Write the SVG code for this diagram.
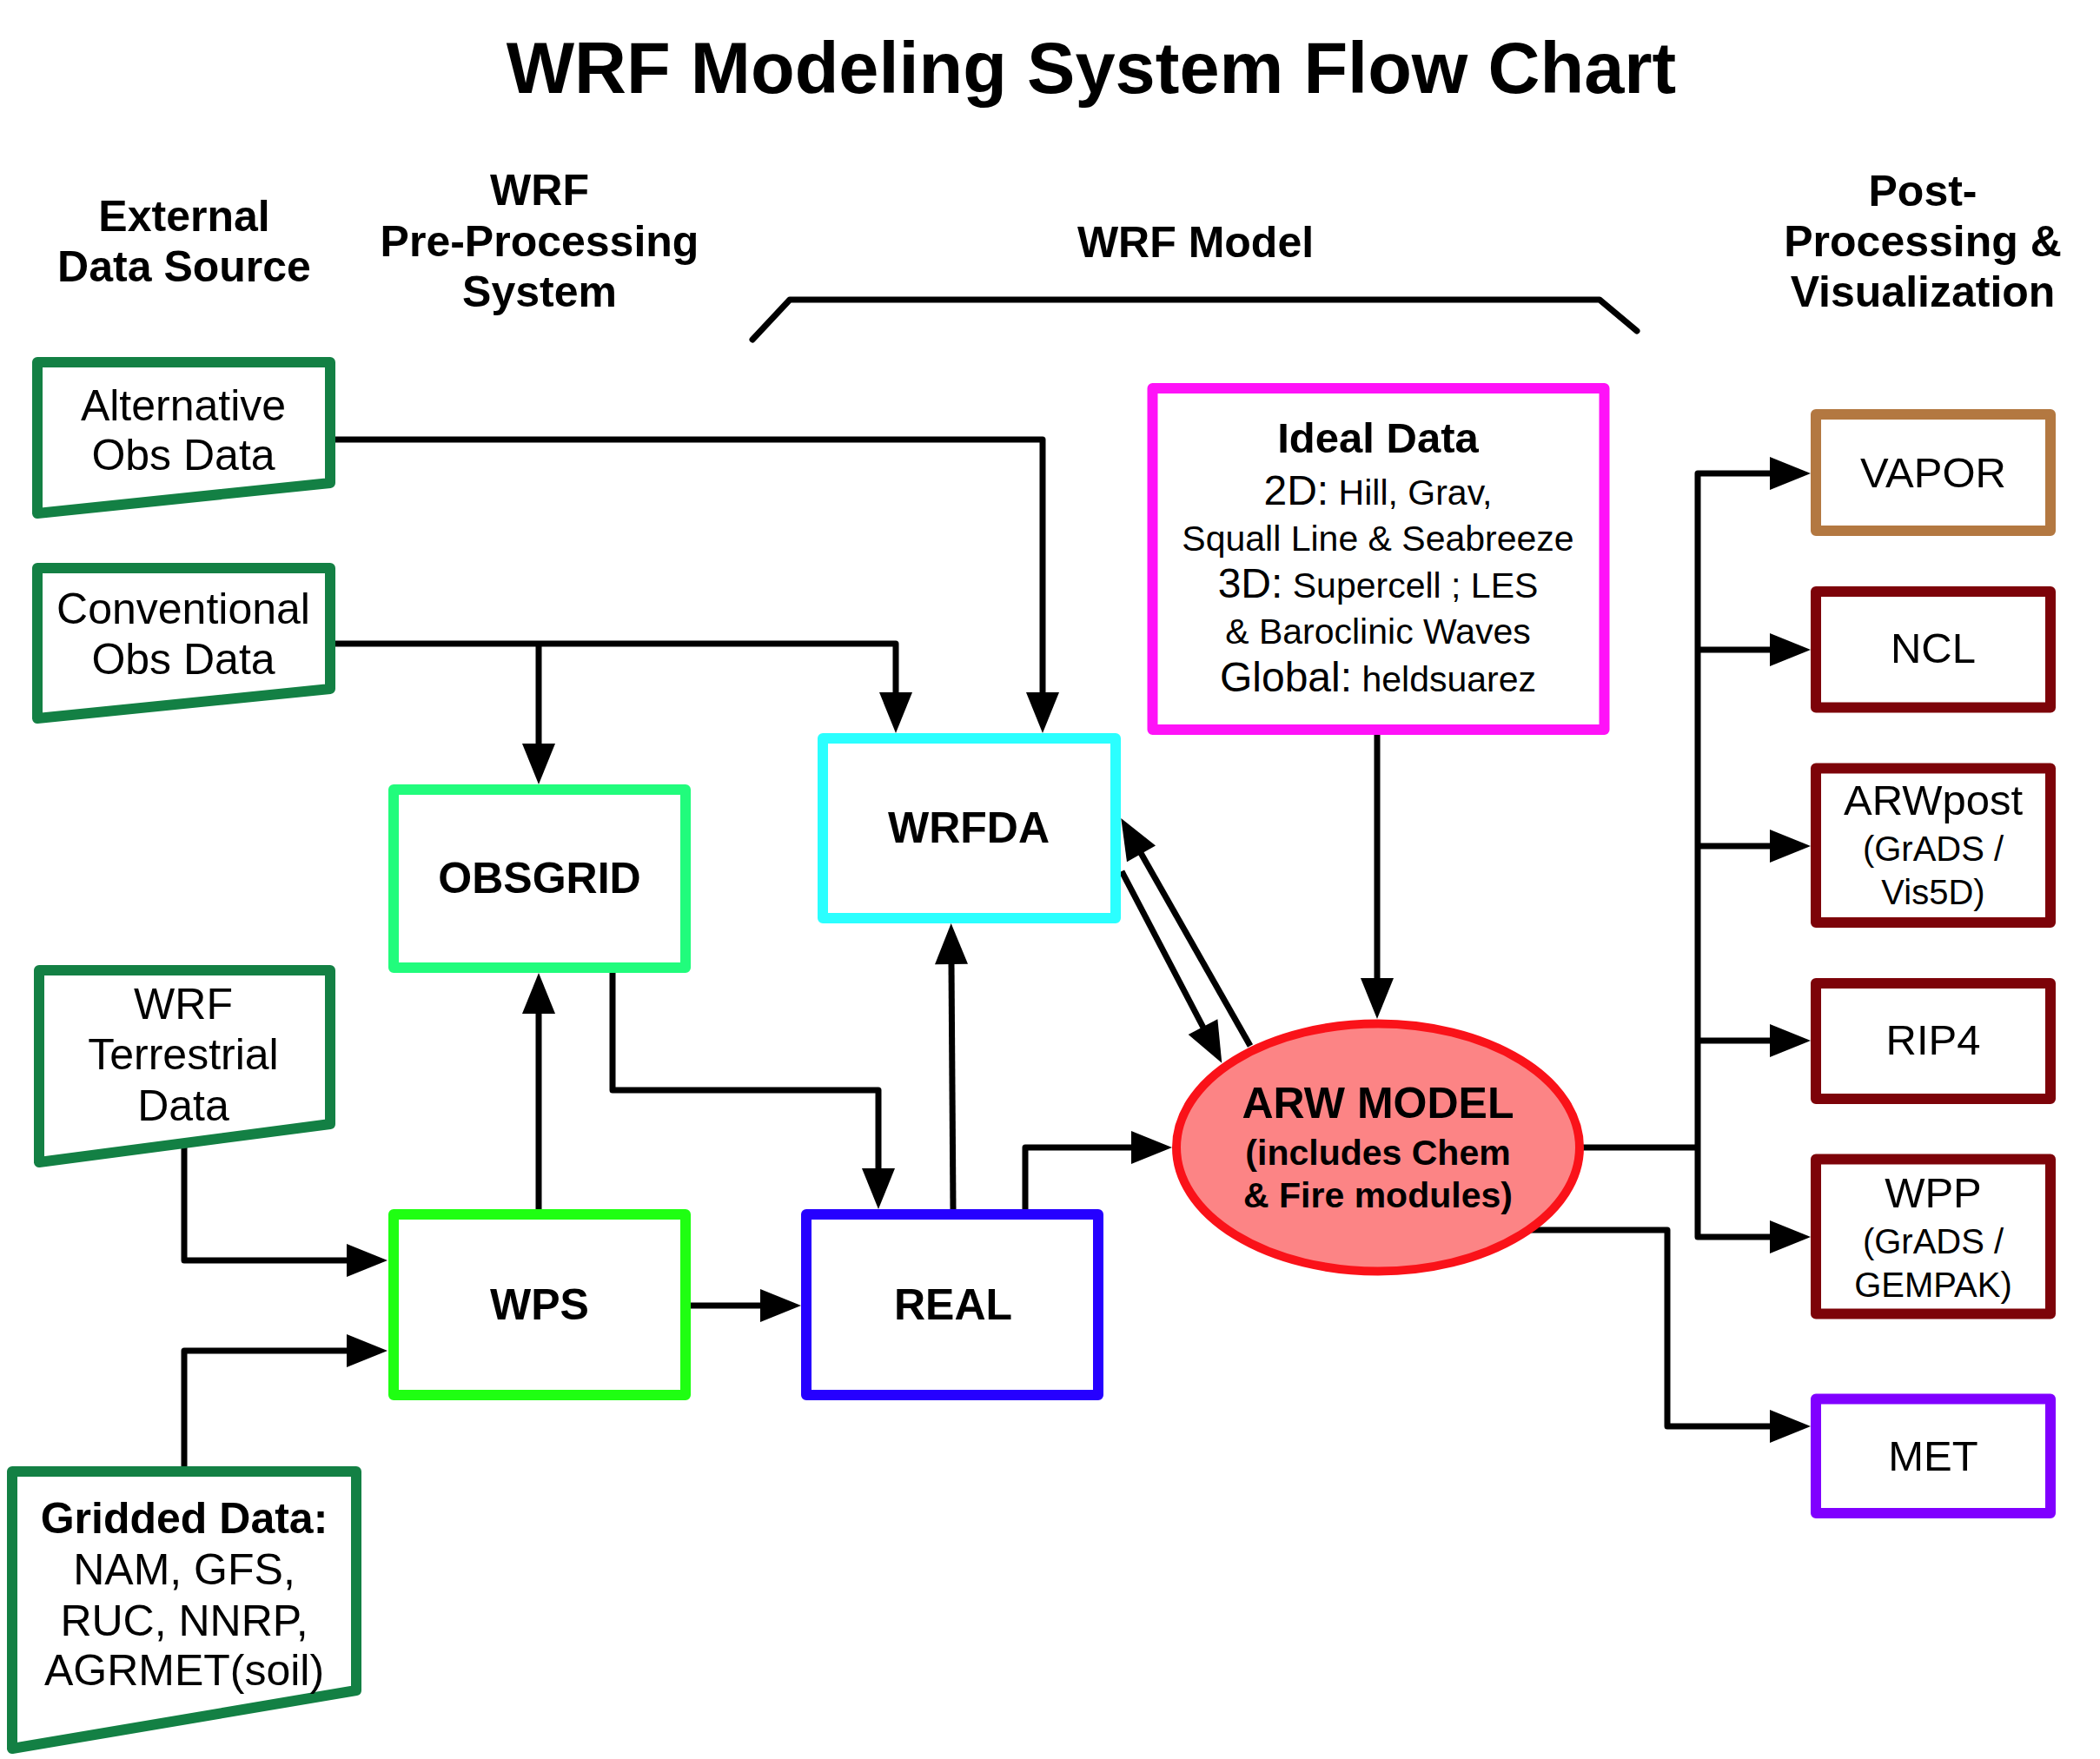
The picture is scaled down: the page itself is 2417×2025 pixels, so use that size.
<svg xmlns="http://www.w3.org/2000/svg" width="2417" height="2025" viewBox="0 0 2417 2025">
<style>
text{font-family:"Liberation Sans",Arial,Helvetica,sans-serif;fill:#000;text-anchor:middle}
.b{font-weight:bold}
.t{font-size:83px;font-weight:bold}
.h{font-size:50px;font-weight:bold}
.n{font-size:50px}
.r{font-size:49px}
.s{font-size:41px}
.box{fill:#fff;stroke-width:12;stroke-linejoin:round}
.ext{fill:#fff;stroke:#138044;stroke-width:12;stroke-linejoin:round}
.post{stroke:#7d0309}
.con{fill:none;stroke:#000;stroke-width:7;stroke-linejoin:round;stroke-linecap:butt}
.arr{marker-end:url(#ah)}
</style>
<defs>
<marker id="ah" markerUnits="userSpaceOnUse" markerWidth="50" markerHeight="40" viewBox="0 0 50 40" refX="1" refY="19" orient="auto" overflow="visible">
<path d="M0,0 L47,19 L0,38 Z" fill="#000"/>
</marker>
</defs>
<rect width="2417" height="2025" fill="#fff"/>

<g id="title">
<text class="t" x="1256" y="107">WRF Modeling System Flow Chart</text>
</g>
<g id="headers">
<text class="h" x="212" y="266">External</text>
<text class="h" x="212" y="324">Data Source</text>
<text class="h" x="621" y="236">WRF</text>
<text class="h" x="621" y="295">Pre-Processing</text>
<text class="h" x="621" y="353">System</text>
<text class="h" x="1376" y="296">WRF Model</text>
<text class="h" x="2213" y="237">Post-</text>
<text class="h" x="2213" y="295">Processing &amp;</text>
<text class="h" x="2213" y="353">Visualization</text>
<path d="M866,391 L909,345 H1841 L1884,381" fill="none" stroke="#000" stroke-width="7" stroke-linecap="round" stroke-linejoin="round"/>
</g>

<g id="connectors">
<path class="con arr" d="M380,506 H1200 V798"/>
<path class="con arr" d="M380,741 H1031 V798"/>
<path class="con arr" d="M620,741 V857"/>
<path class="con arr" d="M212,1318 V1451 H400"/>
<path class="con arr" d="M212,1694 V1555 H400"/>
<path class="con arr" d="M620,1392 V1166"/>
<path class="con arr" d="M705,1120 V1255 H1011 V1346"/>
<path class="con arr" d="M795,1503 H876"/>
<path class="con arr" d="M1097,1392 L1095,1109"/>
<path class="con arr" d="M1180,1392 V1321 H1303"/>
<path class="con arr" d="M1585,846 V1127"/>
<path class="con arr" d="M1439,1204 L1313,982"/>
<path class="con arr" d="M1291,1003 L1385,1183"/>
<path class="con" d="M1818,1321 H1954"/>
<path class="con arr" d="M1954,1321 V545 H2038"/>
<path class="con arr" d="M1954,1321 V1424 H2038"/>
<path class="con arr" d="M1954,748 H2038"/>
<path class="con arr" d="M1954,974 H2038"/>
<path class="con arr" d="M1954,1198 H2038"/>
<path class="con arr" d="M1760,1416 H1919 V1642 H2038"/>
</g>

<g id="alt-obs">
<path class="ext" d="M43,417 L380,417 L380,556 L43,591 Z"/>
<text class="n" x="211" y="484">Alternative</text>
<text class="n" x="211" y="541">Obs Data</text>
</g>
<g id="conv-obs">
<path class="ext" d="M43,654 L380,654 L380,793 L43,827 Z"/>
<text class="n" x="211" y="718">Conventional</text>
<text class="n" x="211" y="776">Obs Data</text>
</g>
<g id="terrestrial">
<path class="ext" d="M45,1117 L380,1117 L380,1294 L45,1338 Z"/>
<text class="n" x="211" y="1173">WRF</text>
<text class="n" x="211" y="1231">Terrestrial</text>
<text class="n" x="211" y="1290">Data</text>
</g>
<g id="gridded">
<path class="ext" d="M14,1694 L410,1694 L410,1946 L14,2013 Z"/>
<text class="n b" x="212" y="1765">Gridded Data:</text>
<text class="n" x="212" y="1824">NAM, GFS,</text>
<text class="n" x="212" y="1883">RUC, NNRP,</text>
<text class="n" x="212" y="1940">AGRMET(soil)</text>
</g>

<g id="obsgrid">
<rect class="box" x="453" y="909" width="336" height="205" stroke="#21fc7c"/>
<text class="h" x="621" y="1028">OBSGRID</text>
</g>
<g id="wrfda">
<rect class="box" x="947" y="850" width="337" height="207" stroke="#2bffff"/>
<text class="h" x="1115" y="970">WRFDA</text>
</g>
<g id="wps">
<rect class="box" x="453" y="1398" width="336" height="208" stroke="#1fff12"/>
<text class="h" x="621" y="1519">WPS</text>
</g>
<g id="real">
<rect class="box" x="928" y="1398" width="336" height="208" stroke="#2600ff"/>
<text class="h" x="1097" y="1519">REAL</text>
</g>

<g id="ideal">
<rect class="box" x="1326.5" y="447" width="520" height="393" stroke="#ff12f8"/>
<text class="b" x="1586" y="521" font-size="49">Ideal Data</text>
<text x="1586" y="581"><tspan font-size="48">2D:</tspan><tspan font-size="41"> Hill, Grav,</tspan></text>
<text x="1586" y="634" font-size="41">Squall Line &amp; Seabreeze</text>
<text x="1586" y="688"><tspan font-size="48">3D:</tspan><tspan font-size="41"> Supercell ; LES</tspan></text>
<text x="1586" y="741" font-size="41">&amp; Baroclinic Waves</text>
<text x="1586" y="796"><tspan font-size="48">Global:</tspan><tspan font-size="41"> heldsuarez</tspan></text>
</g>

<g id="arw-model">
<ellipse cx="1586" cy="1321" rx="232" ry="142.5" fill="#fc8485" stroke="#fa1219" stroke-width="10"/>
<text class="b" x="1586" y="1287" font-size="50">ARW MODEL</text>
<text class="b" x="1586" y="1341" font-size="41">(includes Chem</text>
<text class="b" x="1586" y="1390" font-size="41">&amp; Fire modules)</text>
</g>

<g id="vapor">
<rect class="box" x="2090" y="477" width="270" height="134" stroke="#b37841"/>
<text class="r" x="2225" y="561">VAPOR</text>
</g>
<g id="ncl">
<rect class="box post" x="2090" y="681" width="270" height="133.5"/>
<text class="r" x="2225" y="763">NCL</text>
</g>
<g id="arwpost">
<rect class="box post" x="2090" y="884.5" width="270" height="177.5"/>
<text class="r" x="2225" y="938">ARWpost</text>
<text x="2225" y="991" font-size="40">(GrADS /</text>
<text x="2225" y="1041" font-size="40">Vis5D)</text>
</g>
<g id="rip4">
<rect class="box post" x="2090" y="1132" width="270" height="133"/>
<text class="r" x="2225" y="1214">RIP4</text>
</g>
<g id="wpp">
<rect class="box post" x="2090" y="1334.5" width="270" height="178"/>
<text class="r" x="2225" y="1390">WPP</text>
<text x="2225" y="1443" font-size="40">(GrADS /</text>
<text x="2225" y="1493" font-size="40">GEMPAK)</text>
</g>
<g id="met">
<rect class="box" x="2090" y="1610.5" width="270" height="131.5" stroke="#8000ff"/>
<text class="r" x="2225" y="1693">MET</text>
</g>
</svg>
